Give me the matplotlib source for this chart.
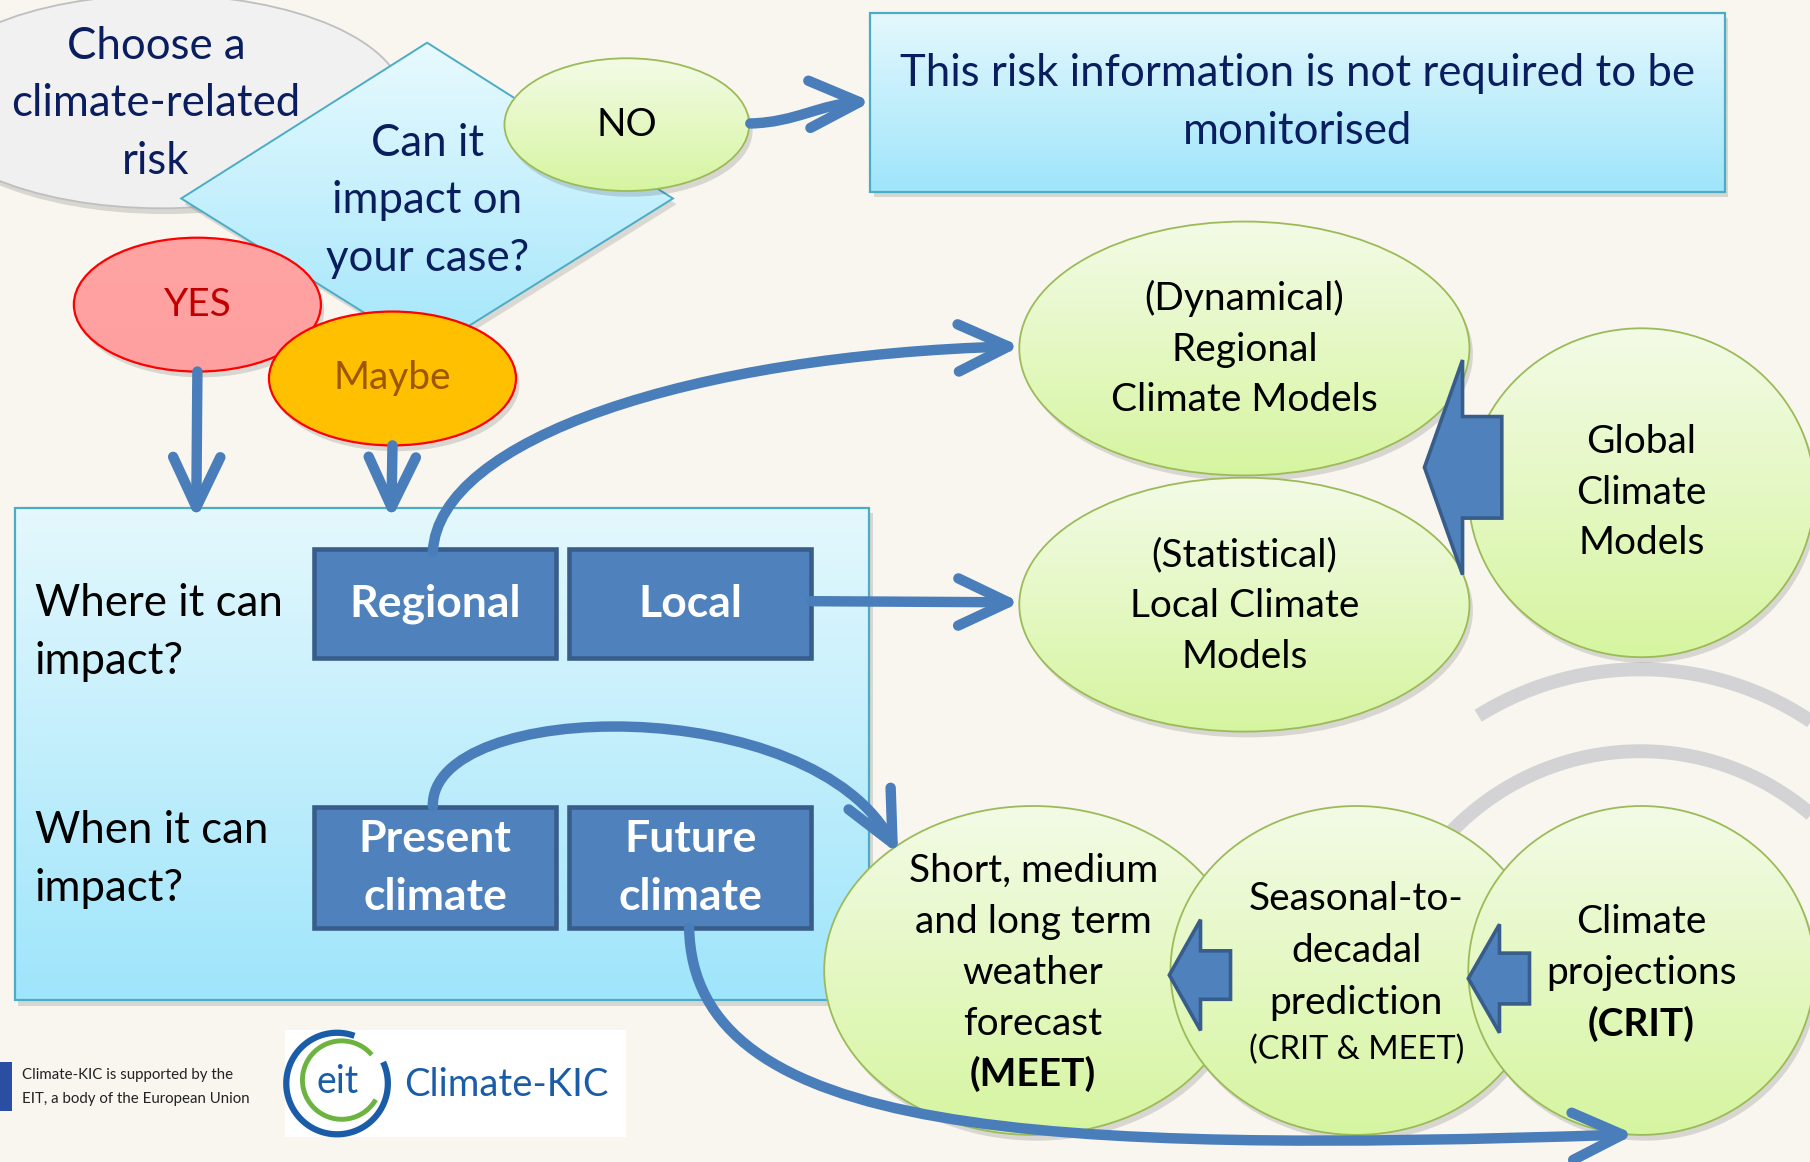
import numpy as np
import matplotlib.pyplot as plt
import matplotlib.colors as mcolors
from matplotlib.patches import Ellipse, Rectangle, Polygon, FancyArrowPatch
from matplotlib.path import Path

plt.rcParams['font.family'] = ['Lato', 'DejaVu Sans']

# --- texts of the flowchart ---
start_label = ['Choose a', 'climate-related', 'risk']
question_label = ['Can it', 'impact on', 'your case?']
answer_labels = ['NO', 'YES', 'Maybe']
not_required_label = ['This risk information is not required to be', 'monitorised']
row_labels = [['Where it can', 'impact?'], ['When it can', 'impact?']]
space_labels = ['Regional', 'Local']
time_labels = [['Present', 'climate'], ['Future', 'climate']]
model_labels = [['(Dynamical)', 'Regional', 'Climate Models'],
                ['(Statistical)', 'Local Climate', 'Models'],
                ['Global', 'Climate', 'Models']]
forecast_labels = [['Short, medium', 'and long term', 'weather', 'forecast'],
                   ['Seasonal-to-', 'decadal', 'prediction'],
                   ['Climate', 'projections']]
project_tags = ['(MEET)', '(CRIT & MEET)', '(CRIT)']
footer_label = ['Climate-KIC is supported by the', 'EIT, a body of the European Union']
logo_labels = ['eit', 'Climate-KIC']

NAVY = '#0a1d5e'
ARROW = '#4a7ebb'
BOX_FILL = '#4f81bd'
BOX_EDGE = '#385d8a'
GREEN_TOP, GREEN_BOT = '#f3fbe6', '#d6f5a0'
CYAN_TOP, CYAN_BOT = '#e4f8fd', '#9fe5fb'
BIG, MID = 31.5, 28

fig = plt.figure(figsize=(18.1, 11.62), dpi=100)
fig.patch.set_facecolor('#f9f6f0')
ax = fig.add_axes([0, 0, 1, 1])
ax.set_facecolor('#f9f6f0')
W, H = 1568, 1007


def shaded(patch, top, bot, z, ext):
    patch.set_facecolor('none')
    patch.set_zorder(z + 0.02)
    ax.add_patch(patch)
    c0 = np.array(mcolors.to_rgb(top))
    c1 = np.array(mcolors.to_rgb(bot))
    t = np.linspace(0, 1, 200)[:, None, None]
    im = ax.imshow(c0 + (c1 - c0) * t, extent=ext, zorder=z + 0.01,
                   aspect='auto', interpolation='bilinear')
    im.set_clip_path(patch)


def ellipse(cx, cy, w, h, top, bot, edge, z, lw=1.3):
    ax.add_patch(Ellipse((cx + 3, cy + 5), w, h, color='black',
                         alpha=0.13, lw=0, zorder=z))
    e = Ellipse((cx, cy), w, h, edgecolor=edge, lw=lw)
    shaded(e, top, bot, z, (cx - w / 2, cx + w / 2, cy + h / 2, cy - h / 2))


def box(x0, y0, x1, y1, top, bot, edge, z, lw=1.6):
    ax.add_patch(Rectangle((x0 + 3, y0 + 5), x1 - x0, y1 - y0, color='black',
                           alpha=0.13, lw=0, zorder=z))
    r = Rectangle((x0, y0), x1 - x0, y1 - y0, edgecolor=edge, lw=lw)
    shaded(r, top, bot, z, (x0, x1, y1, y0))


def lines(txt, x, y0, dy, **kw):
    kw.setdefault('ha', 'center')
    kw.setdefault('va', 'center')
    kw.setdefault('zorder', 20)
    for i, s in enumerate(txt):
        ax.text(x, y0 + i * dy, s, **kw)


def curve(pts, z=12, hl=36, hw=17):
    if len(pts) > 2:
        codes = [Path.MOVETO] + [Path.CURVE4] * (len(pts) - 1)
    else:
        codes = [Path.MOVETO, Path.LINETO]
    a = FancyArrowPatch(path=Path(pts, codes),
                        arrowstyle='->,head_length=%g,head_width=%g' % (hl, hw),
                        color=ARROW, lw=7.5, capstyle='round', joinstyle='round',
                        shrinkA=0, shrinkB=0, zorder=z)
    ax.add_patch(a)


def block_arrow(tip, xh, xs, ht, st, z=11):
    x, y = tip
    pts = [(x, y), (xh, y - ht), (xh, y - st), (xs, y - st),
           (xs, y + st), (xh, y + st), (xh, y + ht)]
    ax.add_patch(Polygon(pts, closed=True, facecolor=BOX_FILL, edgecolor=BOX_EDGE,
                         lw=2.6, joinstyle='miter', zorder=z))


# --- faint background watermark ---
for cx, cy, r, a0, a1 in [(1421, 845, 265, 20, 122), (1421, 878, 227, 8, 172)]:
    th = np.radians(np.linspace(a0, a1, 200))
    ax.plot(cx + r * np.cos(th), cy - r * np.sin(th), color='#d3d3d5', lw=10,
            solid_capstyle='butt', zorder=0.5)

# --- top part: start, question, answers ---
ellipse(140, 88, 420, 185, '#f2f2f2', '#f0f0f0', '#bfbfbf', 1)
lines(start_label, 135, 40, 50, color=NAVY, fontsize=BIG)

diamond = Polygon([(370, 37), (583, 172), (370, 305), (157, 172)], closed=True,
                  edgecolor='#4bacc6', lw=1.4)
ax.add_patch(Polygon([(373, 42), (586, 177), (373, 310), (160, 177)], closed=True,
                     color='black', alpha=0.12, lw=0, zorder=2))
shaded(diamond, '#e8fafe', '#a3e6fb', 2, (157, 583, 305, 37))
lines(question_label, 370, 124, 50, color=NAVY, fontsize=BIG)

ellipse(543, 108, 212, 115, GREEN_TOP, GREEN_BOT, '#9bbb59', 3)
ax.text(543, 108, answer_labels[0], ha='center', va='center', fontsize=MID,
        color='black', zorder=20)
ellipse(171, 264, 214, 116, '#ffa3a3', '#ffa0a0', '#ff0000', 3.2, lw=1.6)
ax.text(171, 264, answer_labels[1], ha='center', va='center', fontsize=MID,
        color='#c00000', zorder=20)
ellipse(340, 328, 214, 116, '#ffc000', '#ffc000', '#ff0000', 3.4, lw=1.6)
ax.text(340, 328, answer_labels[2], ha='center', va='center', fontsize=MID,
        color='#9c5700', zorder=20)

box(754, 11, 1494, 166, CYAN_TOP, CYAN_BOT, '#4bacc6', 3)
lines(not_required_label, 1124, 64, 50, color=NAVY, fontsize=BIG)

curve([(650, 107), (690, 106), (710, 90), (755, 88)])
curve([(171, 322), (170, 450)], z=5)
curve([(340, 386), (339, 450)], z=5)

# --- where / when box ---
box(13, 440, 753, 867, CYAN_TOP, CYAN_BOT, '#4bacc6', 1.5)
lines(row_labels[0], 30, 523, 50, ha='left', color='black', fontsize=BIG)
lines(row_labels[1], 30, 720, 50, ha='left', color='black', fontsize=BIG)

for (x0, x1), lab in zip([(272, 482), (493, 703)], space_labels):
    ax.add_patch(Rectangle((x0, 476), x1 - x0, 94, facecolor=BOX_FILL,
                           edgecolor=BOX_EDGE, lw=3.3, zorder=5))
    ax.text((x0 + x1) / 2, 523, lab, ha='center', va='center', fontsize=32,
            fontweight='bold', color='white', zorder=20)
for (x0, x1), lab in zip([(272, 482), (493, 703)], time_labels):
    ax.add_patch(Rectangle((x0, 699), x1 - x0, 105, facecolor=BOX_FILL,
                           edgecolor=BOX_EDGE, lw=3.3, zorder=5))
    lines(lab, (x0 + x1) / 2, 727, 50, fontsize=32, fontweight='bold', color='white')

# --- model ellipses ---
ellipse(1078, 302, 390, 220, GREEN_TOP, GREEN_BOT, '#9bbb59', 6)
lines(model_labels[0], 1078, 259, 44, fontsize=MID, color='black')
ellipse(1078, 524, 390, 220, GREEN_TOP, GREEN_BOT, '#9bbb59', 6.2)
lines(model_labels[1], 1078, 481, 44, fontsize=MID, color='black')
ellipse(1422, 427, 300, 285, GREEN_TOP, GREEN_BOT, '#9bbb59', 6.4)
lines(model_labels[2], 1422, 383, 44, fontsize=MID, color='black')
block_arrow((1234, 405), 1267, 1301, 93, 44)

ellipse(895, 841, 362, 285, GREEN_TOP, GREEN_BOT, '#9bbb59', 6)
lines(forecast_labels[0], 895, 755, 44, fontsize=MID, color='black')
ax.text(895, 931, project_tags[0], ha='center', va='center', fontsize=MID,
        fontweight='bold', color='black', zorder=20)
ellipse(1175, 841, 322, 285, GREEN_TOP, GREEN_BOT, '#9bbb59', 6.2)
lines(forecast_labels[1], 1175, 779, 45, fontsize=MID, color='black')
ax.text(1175, 910, project_tags[1], ha='center', va='center', fontsize=23.5,
        color='black', zorder=20)
ellipse(1422, 841, 300, 285, GREEN_TOP, GREEN_BOT, '#9bbb59', 6.4)
lines(forecast_labels[2], 1422, 799, 44, fontsize=MID, color='black')
ax.text(1422, 887, project_tags[2], ha='center', va='center', fontsize=MID,
        fontweight='bold', color='black', zorder=20)
block_arrow((1013, 845), 1040, 1066, 48, 21)
block_arrow((1272, 848), 1299, 1325, 47, 22)

# --- connecting arrows ---
curve([(375, 478), (380, 380), (600, 308), (884, 300)])
curve([(703, 521), (884, 522)])
curve([(375, 699), (372, 605), (705, 598), (778, 740)])
curve([(597, 804), (600, 985), (900, 1000), (1416, 983)])

# --- footer ---
ax.add_patch(Rectangle((0, 920), 10, 43, color='#2a4ea2', lw=0, zorder=3))
lines(footer_label, 19, 932, 20, ha='left', fontsize=10.8, color='#222222')
ax.add_patch(Rectangle((247, 893), 295, 92, color='white', lw=0, zorder=3))
th = np.radians(np.linspace(70, 385, 200))
ax.plot(292 + 44 * np.cos(th), 939 - 44 * np.sin(th), color='#1a5ca8', lw=4.5,
        solid_capstyle='butt', zorder=4)
th = np.radians(np.linspace(40, 330, 200))
ax.plot(296 + 34 * np.cos(th), 936 - 34 * np.sin(th), color='#6cb33f', lw=3.5,
        solid_capstyle='butt', zorder=4)
ax.text(292, 938, logo_labels[0], ha='center', va='center', fontsize=27,
        color='#1a5ca8', zorder=5)
ax.text(350, 940, logo_labels[1], ha='left', va='center', fontsize=27.5,
        color='#1a5ca8', zorder=5)

ax.set_xlim(0, W)
ax.set_ylim(H, 0)
ax.axis('off')
fig.savefig('out.png', dpi=100, facecolor=fig.get_facecolor())
